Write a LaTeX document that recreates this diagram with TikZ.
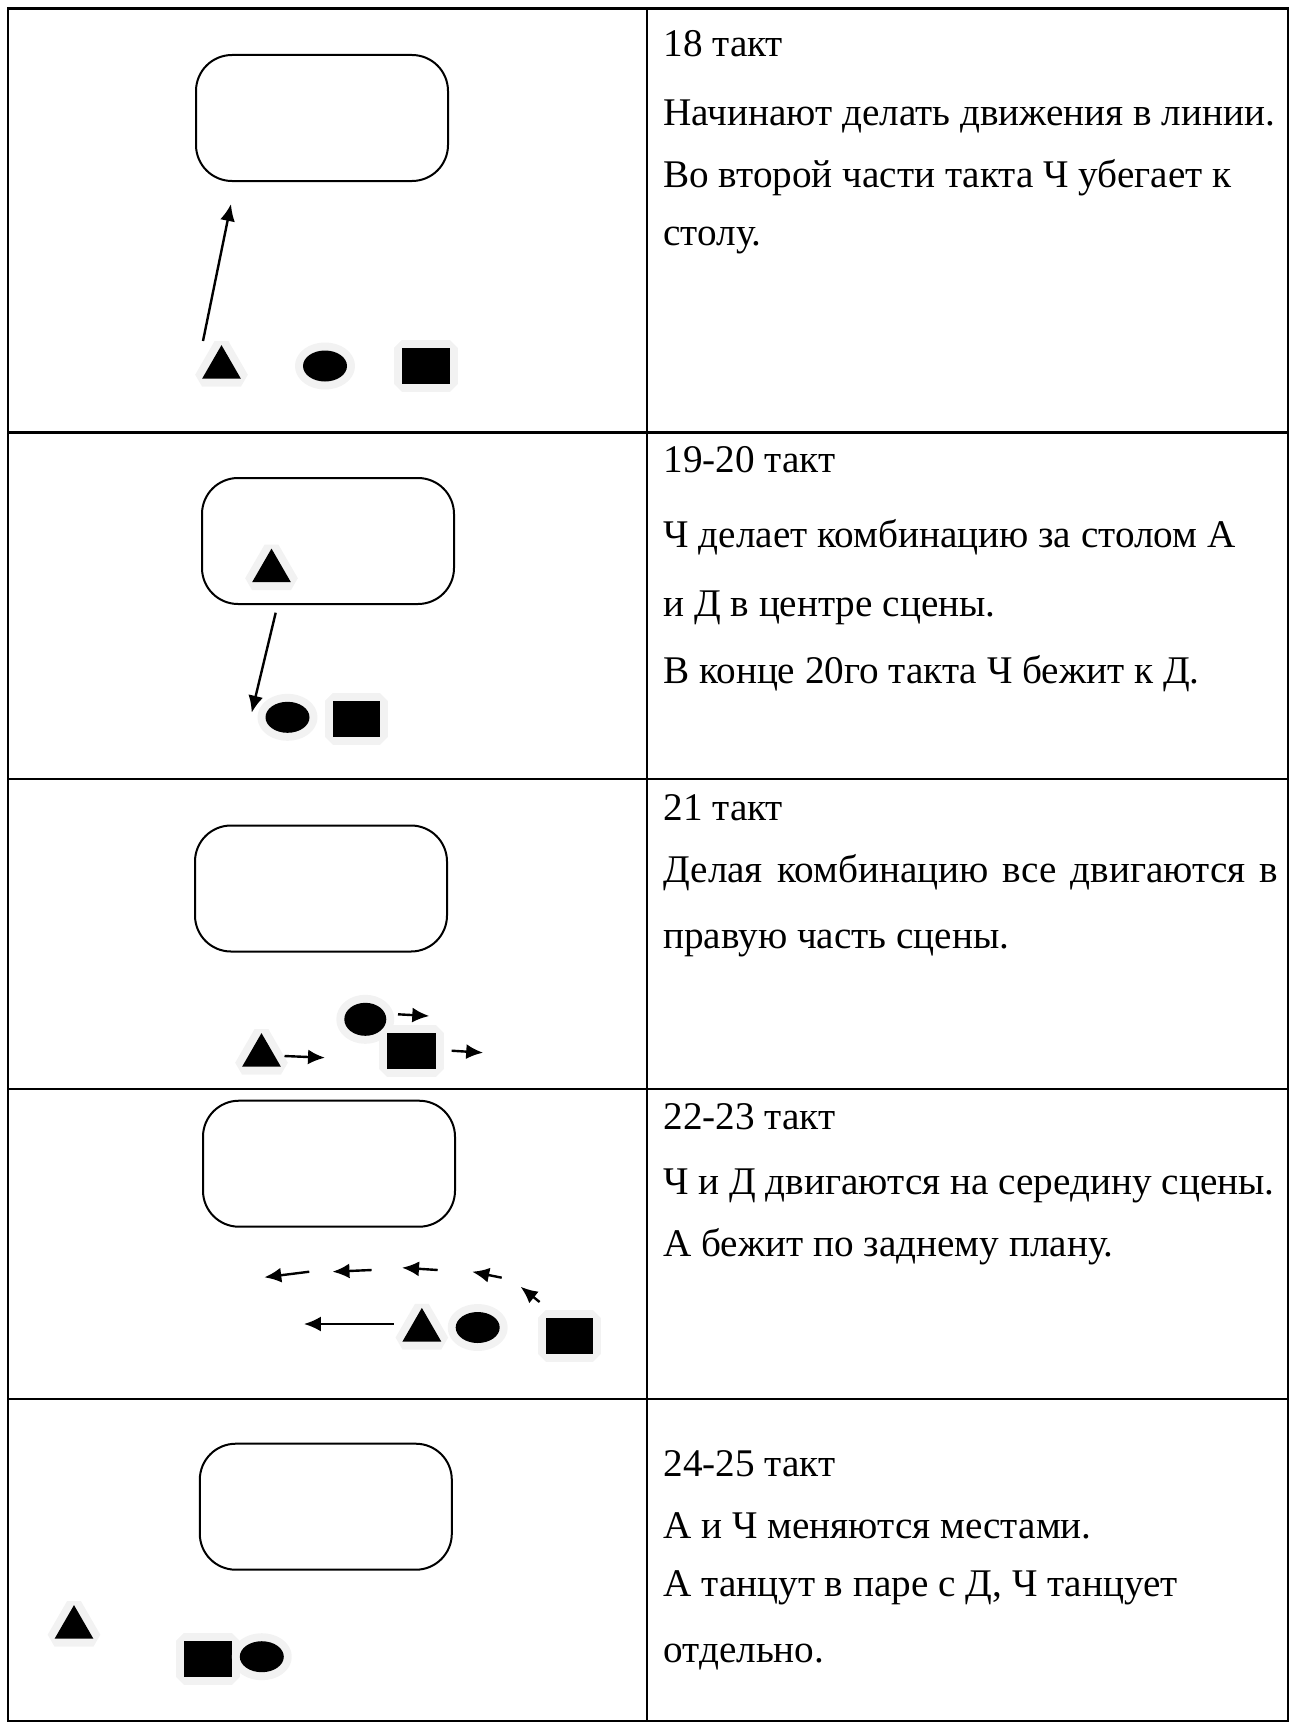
\documentclass[tikz,border=0pt]{standalone}
\usepackage{fontspec}
\setmainfont{Liberation Serif}
\usetikzlibrary{shapes.geometric,arrows.meta}
\definecolor{halo}{HTML}{F2F2F2}
\begin{document}
\begin{tikzpicture}[x=0.5pt,y=-0.5pt,
  grid/.style={line width=1.3pt},
  stage/.style={draw, line width=1pt, rounded corners=18pt, minimum width=126pt, minimum height=63pt, inner sep=0pt},
  glow/.style={preaction={draw=halo, line width=8pt, line join=bevel}},
  tri/.style={glow, regular polygon, regular polygon sides=3, minimum size=22.4pt, inner sep=0pt, fill=black},
  oval/.style={glow, ellipse, minimum width=22pt, minimum height=15.5pt, inner sep=0pt, fill=black},
  sq/.style={glow, rectangle, minimum width=23.75pt, minimum height=18pt, inner sep=0pt, fill=black},
  mv/.style={-{Latex[length=8.5pt,width=7.5pt]}, line width=1.2pt},
  txt/.style={anchor=base west, inner sep=0pt, font=\fontsize{19.6pt}{23pt}\selectfont}]
\useasboundingbox (0,0) rectangle (1291,1723);

% table frame
\draw[grid] (8,8.5) rectangle (1288,1721);
\draw[grid] (647,8.5) -- (647,1721);
\foreach \y in {432.5,779,1089,1399} \draw[grid] (8,\y) -- (1288,\y);

% ---- bar 18
\node[stage] (r1) at (322,118) {};
\node[tri] (t1) at (221.5,367.5) {};
\node[oval] (c1) at (325,366) {};
\node[sq] (s1) at (425.75,366) {};
\coordinate (a1s) at (203,341);
\coordinate (a1e) at (231,204);
\draw[mv] (a1s) -- (a1e);

% ---- bars 19-20
\node[stage] (r2) at (328,541) {};
\node[tri] (t2) at (271.5,571) {};
\node[oval] (c2) at (287.5,717.3) {};
\node[sq] (s2) at (356.25,718.85) {};
\coordinate (a2s) at (275.7,612.7);
\coordinate (a2e) at (251.7,712.7);
\draw[mv] (a2s) -- (a2e);

% ---- bar 21
\node[stage] (r3) at (321,888.5) {};
\node[tri] (t3) at (261.5,1055.5) {};
\node[oval, minimum width=21pt, minimum height=16.5pt] (c3) at (365.3,1019.3) {};
\node[sq, minimum width=24.3pt, minimum height=17.85pt] (s3) at (411.3,1050.85) {};
\coordinate (a3s) at (284.5,1056);
\coordinate (a3e) at (325,1057.7);
\coordinate (a4s) at (398,1014.3);
\coordinate (a4e) at (429.3,1016);
\coordinate (a5s) at (451.6,1050.7);
\coordinate (a5e) at (483.2,1052.7);
\draw[mv] (a3s) -- (a3e);
\draw[mv] (a4s) -- (a4e);
\draw[mv] (a5s) -- (a5e);

% ---- bars 22-23
\node[stage] (r4) at (329,1163.7) {};
\node[tri] (t4) at (421.85,1330.3) {};
\node[oval] (c4) at (477.7,1327.5) {};
\node[sq] (s4) at (569.65,1336.3) {};
\coordinate (b1s) at (309.3,1271.7);  \coordinate (b1e) at (264.3,1277.3);
\coordinate (b2s) at (371.6,1270);    \coordinate (b2e) at (332.5,1271.7);
\coordinate (b3s) at (437.7,1270);    \coordinate (b3e) at (402,1267.7);
\coordinate (b4s) at (501.7,1277.7);  \coordinate (b4e) at (472.2,1271.7);
\coordinate (b5s) at (539.6,1302);    \coordinate (b5e) at (520.6,1286.7);
\coordinate (b6s) at (393.5,1324);    \coordinate (b6e) at (303.9,1324);
\foreach \k in {1,...,6} \draw[mv] (b\k s) -- (b\k e);

% ---- bars 24-25
\node[stage] (r5) at (325.8,1506.7) {};
\node[tri] (t5) at (74,1627.5) {};
\node[sq] (s5) at (207.75,1658.7) {};
\node[oval] (c5) at (261.8,1656.7) {};

% ---- descriptions
\node[txt] (h1) at (663,57) {18 такт};
\node[txt] (d1a) at (663,126) {Начинают делать движения в линии.};
\node[txt] (d1b) at (663,187) {Во второй части такта Ч убегает к};
\node[txt] (d1c) at (663,245) {столу.};

\node[txt] (h2) at (663,472) {19-20 такт};
\node[txt] (d2a) at (663,547) {Ч делает комбинацию за столом А};
\node[txt] (d2b) at (663,616) {и Д в центре сцены.};
\node[txt] (d2c) at (663,683) {В конце 20го такта Ч бежит к Д.};

\node[txt] (h3) at (663,820) {21 такт};
\node[txt] (d3a) at (663,882) {\makebox[307.5pt][s]{Делая комбинацию все двигаются в}};
\node[txt] (d3b) at (663,948) {правую часть сцены.};

\node[txt] (h4) at (663,1129) {22-23 такт};
\node[txt] (d4a) at (663,1194) {Ч и Д двигаются на середину сцены.};
\node[txt] (d4b) at (663,1256) {А бежит по заднему плану.};

\node[txt] (h5) at (663,1476) {24-25 такт};
\node[txt] (d5a) at (663,1538) {А и Ч меняются местами.};
\node[txt] (d5b) at (663,1596) {А танцут в паре с Д, Ч танцует};
\node[txt] (d5c) at (663,1662) {отдельно.};
\end{tikzpicture}
\end{document}
